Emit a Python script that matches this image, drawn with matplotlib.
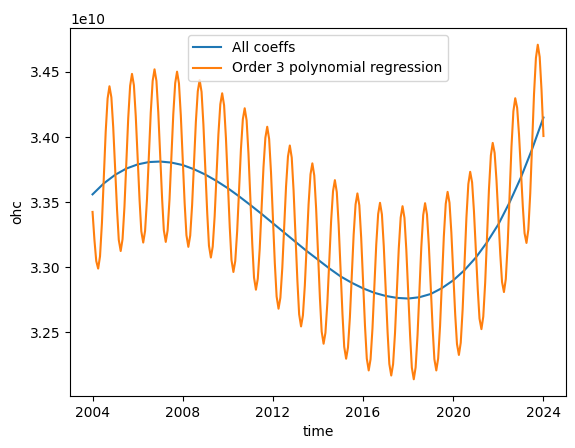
import numpy as np
import pandas as pd
import matplotlib
matplotlib.use("Agg")
import matplotlib.pyplot as plt
import matplotlib.dates as mdates
from matplotlib.ticker import MultipleLocator

# Monthly values (units of 1e10), Jan..Dec for each year 2004-2023, plus Jan 2024
ohc_monthly = [
    [3.3425, 3.3208, 3.3048, 3.2990, 3.3084, 3.3340, 3.3690, 3.4040, 3.4296, 3.4390, 3.4305, 3.4074],
    [3.3757, 3.3441, 3.3210, 3.3125, 3.3216, 3.3465, 3.3805, 3.4145, 3.4394, 3.4485, 3.4398, 3.4161],
    [3.3837, 3.3514, 3.3277, 3.3190, 3.3279, 3.3523, 3.3855, 3.4188, 3.4431, 3.4520, 3.4431, 3.4189],
    [3.3857, 3.3526, 3.3284, 3.3195, 3.3283, 3.3522, 3.3849, 3.4175, 3.4414, 3.4502, 3.4412, 3.4166],
    [3.3829, 3.3493, 3.3247, 3.3157, 3.3243, 3.3477, 3.3798, 3.4118, 3.4352, 3.4438, 3.4347, 3.4097],
    [3.3756, 3.3416, 3.3166, 3.3075, 3.3159, 3.3390, 3.3706, 3.4021, 3.4252, 3.4336, 3.4244, 3.3993],
    [3.3650, 3.3307, 3.3056, 3.2964, 3.3048, 3.3278, 3.3593, 3.3907, 3.4137, 3.4221, 3.4128, 3.3873],
    [3.3524, 3.3176, 3.2921, 3.2828, 3.2912, 3.3141, 3.3454, 3.3766, 3.3995, 3.4079, 3.3985, 3.3730],
    [3.3380, 3.3031, 3.2776, 3.2682, 3.2766, 3.2995, 3.3309, 3.3622, 3.3851, 3.3935, 3.3842, 3.3588],
    [3.3240, 3.2893, 3.2639, 3.2546, 3.2630, 3.2859, 3.3172, 3.3485, 3.3714, 3.3798, 3.3705, 3.3452],
    [3.3105, 3.2759, 3.2506, 3.2413, 3.2497, 3.2727, 3.3041, 3.3355, 3.3585, 3.3669, 3.3577, 3.3326],
    [3.2983, 3.2641, 3.2390, 3.2298, 3.2383, 3.2615, 3.2933, 3.3250, 3.3482, 3.3567, 3.3476, 3.3227],
    [3.2887, 3.2548, 3.2299, 3.2208, 3.2294, 3.2530, 3.2852, 3.3173, 3.3409, 3.3495, 3.3406, 3.3163],
    [3.2832, 3.2500, 3.2258, 3.2169, 3.2256, 3.2494, 3.2819, 3.3144, 3.3382, 3.3469, 3.3380, 3.3137],
    [3.2804, 3.2472, 3.2229, 3.2140, 3.2231, 3.2478, 3.2816, 3.3154, 3.3401, 3.3492, 3.3406, 3.3171],
    [3.2850, 3.2529, 3.2294, 3.2208, 3.2300, 3.2551, 3.2894, 3.3236, 3.3487, 3.3579, 3.3495, 3.3266],
    [3.2953, 3.2640, 3.2411, 3.2327, 3.2421, 3.2679, 3.3030, 3.3382, 3.3639, 3.3733, 3.3652, 3.3431],
    [3.3129, 3.2827, 3.2606, 3.2525, 3.2621, 3.2883, 3.3240, 3.3598, 3.3859, 3.3955, 3.3878, 3.3669],
    [3.3382, 3.3096, 3.2887, 3.2810, 3.2910, 3.3182, 3.3554, 3.3926, 3.4198, 3.4298, 3.4224, 3.4020],
    [3.3742, 3.3465, 3.3261, 3.3187, 3.3289, 3.3568, 3.3948, 3.4329, 3.4607, 3.4709, 3.4615, 3.4358],
]
ohc_last = [3.4008]

# Smooth fit, half-yearly values (units of 1e10), 2004.0 .. 2024.0
fit_values = [
    3.3560, 3.3644, 3.3710, 3.3758, 3.3790, 3.3808, 3.3812, 3.3804, 3.3785, 3.3753,
    3.3712, 3.3663, 3.3607, 3.3545, 3.3478, 3.3410, 3.3338, 3.3267, 3.3195, 3.3125,
    3.3058, 3.2992, 3.2930, 3.2881, 3.2838, 3.2804, 3.2780, 3.2765, 3.2760, 3.2770,
    3.2795, 3.2840, 3.2900, 3.2978, 3.3075, 3.3192, 3.3330, 3.3498, 3.3690, 3.3907,
    3.4150,
]

series_labels = ["All coeffs", "Order 3 polynomial regression"]

ohc = np.concatenate([np.ravel(ohc_monthly), ohc_last]) * 1e10
fit = np.array(fit_values) * 1e10
t_month = pd.date_range("2004-01-01", periods=len(ohc), freq="MS")
t_fit = pd.date_range("2004-01-01", periods=len(fit), freq="6MS")

fig = plt.figure(figsize=(5.75, 4.48), dpi=100)
ax = fig.add_axes([70 / 575, 52 / 448, 496 / 575, 368 / 448])
ax.plot(t_fit, fit, color="tab:blue", label=series_labels[0])
ax.plot(t_month, ohc, color="tab:orange", label=series_labels[1])

ax.xaxis.set_major_locator(mdates.YearLocator(4))
ax.xaxis.set_major_formatter(mdates.DateFormatter("%Y"))
ax.yaxis.set_major_locator(MultipleLocator(0.05e10))
ax.set_xlabel("time")
ax.set_ylabel("ohc")
ax.legend(loc="upper center")

fig.savefig("out.png", dpi=100)
